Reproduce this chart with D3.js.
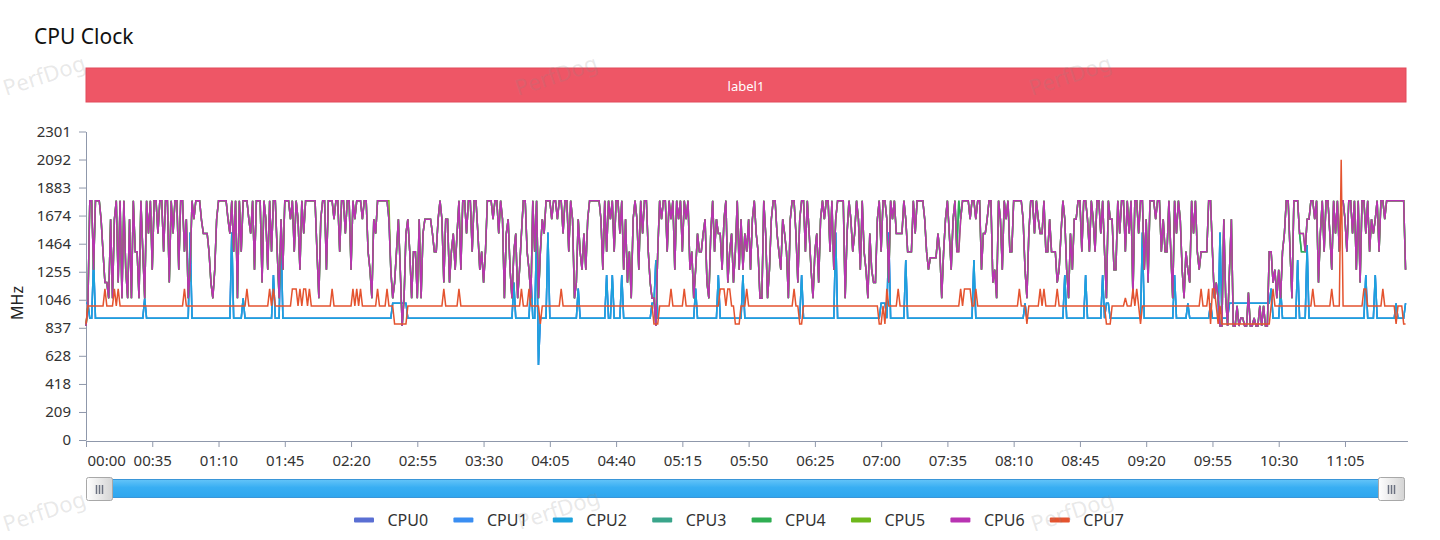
<!DOCTYPE html>
<html><head><meta charset="utf-8">
<script src="https://cdn.jsdelivr.net/npm/d3@7"></script>
<style>
html,body{margin:0;padding:0;background:#fff;}
svg{display:block;font-family:"Noto Sans","Open Sans",sans-serif;}
</style></head><body>
<svg id="chart" width="1440" height="540"></svg>
<script>
// ---------------- DATA ----------------
const chartTitle = "CPU Clock";
const bandLabel = "label1";
const yAxisTitle = "MHz";
const watermarkText = "PerfDog";
const seriesNames = ["CPU0","CPU1","CPU2","CPU3","CPU4","CPU5","CPU6","CPU7"];
const seriesColors = ["#5a6fd3","#3a8ef2","#1ca2dc","#3aa58b","#2fae52","#6eb81c","#b833b2","#e4532f"];
const yTickValues = [0,209,418,628,837,1046,1255,1464,1674,1883,2092,2301];
const xTickSeconds = [0,35,70,105,140,175,210,245,280,315,350,385,420,455,490,525,560,595,630,665];
const xTickLabels = ["00:00","00:35","01:10","01:45","02:20","02:55","03:30","04:05","04:40","05:15","05:50","06:25","07:00","07:35","08:10","08:45","09:20","09:55","10:30","11:05"];

// CPU0-CPU2 (little cluster), one value per second, MHz
const littleClk = [
1020,1020,908,908,1343,908,908,908,908,908,
908,908,908,908,908,908,908,908,908,908,
908,908,908,908,908,908,908,908,908,908,
908,1057,908,908,908,908,908,908,908,908,
908,908,908,908,908,908,908,908,908,908,
908,908,908,908,908,1548,908,908,908,908,
908,908,908,908,908,908,908,908,908,908,
908,908,908,908,908,908,908,1548,908,908,
908,908,908,1057,908,908,908,908,908,908,
908,908,908,908,908,908,908,908,908,1231,
908,908,908,1548,908,908,908,908,908,908,
908,908,908,908,908,908,908,908,908,908,
908,908,908,908,908,908,908,908,908,908,
908,908,908,908,908,908,908,908,908,908,
908,908,908,908,908,908,908,908,908,908,
908,908,908,908,908,908,908,908,908,908,
908,908,1020,1020,1020,1020,1020,1020,1020,1020,
908,908,908,908,908,908,908,908,908,908,
908,908,908,908,908,908,908,908,908,908,
908,908,908,908,908,908,908,908,908,908,
908,908,908,908,908,908,908,908,908,908,
908,908,908,908,908,908,908,908,908,908,
908,908,908,908,908,908,1174,908,908,908,
908,908,908,908,908,1231,908,908,1548,560,
908,908,908,908,1548,908,908,908,908,908,
908,908,908,908,908,908,908,908,908,908,
1130,908,908,908,908,908,908,908,908,908,
908,908,908,908,908,1231,908,908,1231,908,
908,908,908,1231,908,908,908,908,908,908,
908,908,908,908,908,908,908,908,908,1020,
1020,1343,908,908,908,908,908,908,908,908,
908,908,908,908,908,908,908,908,908,908,
908,908,1130,908,908,908,908,908,908,908,
908,908,908,908,1231,908,908,908,908,908,
908,908,908,908,908,908,908,1231,908,908,
908,908,908,908,908,908,908,908,908,908,
908,908,908,908,908,908,908,908,908,908,
908,908,908,908,908,908,908,908,1231,908,
908,908,908,908,908,908,908,908,908,908,
908,908,908,908,908,908,1548,908,908,908,
908,908,908,908,908,908,908,908,908,908,
908,908,908,908,908,908,908,908,908,908,
1020,1020,1020,908,1548,908,908,908,908,908,
908,908,908,1343,908,908,908,908,908,908,
908,908,908,908,908,908,908,908,908,908,
908,908,908,908,908,908,908,908,908,908,
908,908,908,908,908,908,908,908,908,1343,
908,908,908,908,908,908,908,908,908,908,
908,908,908,908,908,908,908,908,908,908,
908,908,908,908,908,908,1020,908,908,908,
908,908,908,908,908,908,908,908,908,908,
908,908,908,908,908,908,908,1231,908,908,
908,908,908,908,908,908,908,908,1231,908,
908,908,908,908,908,908,908,1231,908,1020,
1020,908,908,908,908,908,908,908,908,908,
908,908,908,908,908,908,908,908,1548,908,
908,908,908,908,908,908,908,908,908,908,
908,908,908,908,908,1231,908,908,908,908,
908,908,1020,908,908,908,908,908,908,908,
908,908,908,908,1020,908,908,908,908,1548,
908,908,908,908,1020,1020,1020,1020,1020,1020,
1020,1020,1020,1020,1020,1020,1020,1020,1020,1020,
1020,1020,1020,1020,1020,1020,1130,908,908,908,
908,1130,908,908,908,908,908,908,908,908,
1343,908,908,908,908,1455,908,908,908,908,
908,908,908,908,908,908,908,908,908,908,
908,908,908,908,908,908,908,908,908,908,
908,908,908,908,908,908,1231,908,908,908,
908,1231,908,908,908,908,908,908,908,908,
908,908,1020,908,908,908,908,1020
];

// CPU3-CPU6 (middle cluster), MHz
const midClk = [
850,1000,1785,1785,1270,1785,1785,1785,1640,1400,
1174,1174,1057,1647,1057,1647,1785,1174,1785,1057,
1785,1270,1057,1647,1057,1785,1405,1405,1057,1785,
1405,1057,1785,1540,1785,1270,1785,1785,1540,1785,
1785,1405,1785,1785,1174,1785,1540,1785,1785,1270,
1785,1785,1405,1647,1057,1270,1785,1647,1785,1785,
1785,1640,1540,1540,1540,1400,1174,1057,1270,1647,
1785,1785,1785,1785,1785,1647,1540,1785,1405,1785,
1057,1785,1405,1785,1785,1785,1647,1540,1785,1270,
1785,1785,1785,1174,1785,1647,1270,1785,1405,1785,
1785,1405,1057,1647,1270,1785,1785,1785,1647,1785,
1405,1785,1647,1270,1785,1540,1785,1785,1785,1785,
1785,1785,1405,1057,1647,1785,1785,1270,1785,1785,
1785,1647,1785,1785,1405,1785,1785,1540,1785,1785,
1270,1785,1647,1785,1785,1785,1647,1785,1785,1405,
1270,1057,1647,1540,1785,1785,1785,1785,1785,1785,
1647,1270,1057,1174,1405,1647,1270,850,1057,1540,
1647,1405,1057,1405,1405,1057,1647,1057,1540,1647,
1647,1647,1647,1540,1405,1405,1647,1785,1647,1174,
1647,1647,1174,1405,1540,1270,1540,1785,1270,1785,
1785,1540,1785,1785,1405,1785,1785,1540,1270,1405,
1174,1405,1785,1785,1785,1647,1785,1785,1540,1785,
1647,1057,1540,1647,1270,1057,1405,1540,1057,1270,
1540,1785,1785,1405,1270,1057,1785,1405,1785,1057,
1405,1647,1540,1785,1785,1785,1647,1785,1785,1647,
1785,1785,1540,1785,1785,1405,1785,1647,1057,1174,
1647,1405,1270,1540,1270,1647,1785,1785,1785,1785,
1785,1785,1647,1270,1785,1405,1785,1647,1785,1405,
1785,1785,1540,1785,1270,1647,1174,1405,1057,1647,
1785,1647,1270,1785,1540,1785,1785,1405,1174,1057,
1057,850,1405,1785,1647,1785,1785,1405,1785,1647,
1785,1270,1785,1647,1785,1405,1785,1647,1785,1270,
1405,1057,1270,1540,1405,1405,1540,1647,1174,1057,
1540,1785,1405,1647,1540,1540,1270,1647,1785,1174,
1405,1540,1174,1405,1785,1270,1647,1270,1540,1405,
1647,1270,1647,1785,1540,1405,1057,1057,1785,1540,
1057,1270,1647,1785,1785,1540,1405,1270,1647,1540,
1405,1057,1647,1785,1785,1540,1174,1647,1785,1785,
1405,1785,1540,1270,1057,1405,1540,1174,1647,1785,
1647,1785,1785,1405,1785,1270,1647,1785,1785,1785,
1785,1057,1540,1785,1647,1405,1540,1785,1647,1270,
1785,1405,1270,1057,1540,1270,1174,1174,1647,1785,
1405,1785,1785,1647,1174,1785,1647,1785,1540,1540,
1540,1540,1785,1647,1405,1405,1405,1785,1540,1785,
1785,1785,1785,1647,1405,1270,1360,1360,1360,1360,
1540,1405,1057,1405,1647,1785,1540,1270,1647,1785,
1405,1405,1647,1785,1785,1785,1785,1647,1785,1785,
1647,1785,1785,1270,1540,1540,1647,1785,1785,1174,
1270,1057,1785,1647,1270,1785,1647,1785,1405,1405,
1785,1785,1785,1785,1785,1647,1270,1057,1540,1785,
1785,1540,1785,1647,1540,1540,1785,1405,1405,1647,
1405,1405,1405,1174,1270,1540,1785,1647,1270,1057,
1540,1270,1647,1647,1785,1785,1405,1785,1785,1647,
1405,1785,1647,1405,1785,1785,1540,1785,1405,1057,
1785,1647,1647,1270,1270,1785,1540,1785,1785,1405,
1785,1540,1785,1057,1785,1785,1540,1785,1785,1270,
1647,1174,1785,1785,1785,1647,1785,1785,1405,1647,
1405,1405,1785,1405,1057,1785,1540,1785,1647,1270,
1057,1405,1270,1174,1785,1540,1785,1405,1270,1405,
1405,1405,1405,1785,1785,1405,1057,1174,1057,850,
850,1647,1057,850,1270,1647,850,850,1000,850,
910,910,850,850,1100,850,850,910,850,850,
1000,850,1000,850,850,1405,1405,1174,1270,1057,
1270,1057,1405,1540,1785,1785,1405,1057,1785,1785,
1785,1540,1540,1540,1405,1647,1647,1785,1785,1647,
1785,1174,1540,1785,1405,1785,1785,1540,1270,1785,
1540,1785,1405,1785,1785,1647,1405,1785,1785,1540,
1785,1270,1785,1174,1785,1785,1540,1785,1405,1647,
1540,1647,1785,1405,1785,1785,1647,1785,1785,1785,
1785,1785,1785,1785,1785,1785,1785,1270
];

// CPU7 (prime core), MHz
const primeClk = [
866,1000,1000,1000,1000,1000,1000,1000,1000,1000,
1127,1000,1000,1000,1000,1127,1000,1127,1000,1000,
1000,1000,1000,1000,1000,1000,1000,1000,1000,1000,
1000,1000,1000,1000,1000,1000,1000,1000,1000,1000,
1000,1000,1000,1000,1000,1000,1000,1000,1000,1000,
1000,1000,1127,1000,1000,1000,1000,1000,1000,1000,
1000,1000,1000,1000,1000,1000,1000,1000,1000,1000,
1000,1000,1000,1000,1000,1000,1000,1000,1000,1000,
1000,1000,1000,1000,1000,1127,1000,1000,1000,1000,
1000,1000,1000,1000,1000,1000,1000,1127,1000,1127,
1000,1000,1000,1000,1000,1000,1000,1000,1000,1127,
1127,1127,1000,1127,1000,1127,1127,1000,1127,1000,
1000,1000,1000,1000,1000,1000,1000,1000,1000,1000,
1127,1000,1000,1000,1000,1000,1000,1000,1000,1000,
1000,1127,1000,1127,1000,1127,1000,1000,1000,1000,
1000,1000,1000,1000,1127,1000,1000,1000,1000,1127,
1000,1000,1000,866,866,866,866,866,866,866,
1000,1000,1000,1000,1000,1000,1000,1000,1000,1000,
1000,1000,1000,1000,1000,1000,1000,1000,1000,1127,
1000,1000,1000,1000,1000,1000,1000,1127,1000,1000,
1000,1000,1000,1000,1000,1000,1000,1000,1000,1000,
1000,1000,1000,1000,1000,1000,1000,1000,1000,1000,
1000,1000,1000,1000,1000,1000,1000,1000,1000,1000,
1127,1000,1000,1000,1127,1000,1000,1000,1000,1000,
866,1000,1000,1000,1000,1000,1000,1000,1000,1000,
1000,1127,1000,1000,1000,1000,1000,1000,1000,1000,
1000,1000,1000,1000,1000,1000,1000,1000,1000,1000,
1000,1000,1000,1000,1000,1000,1000,1000,1000,1000,
1000,1000,1000,1000,1000,1000,1000,1000,1000,1000,
1000,1000,1000,1000,1000,1000,1000,1000,1000,1000,
866,866,866,1000,1000,1000,1000,1000,1000,1127,
1000,1000,1000,1000,1000,1000,1127,1000,1000,1000,
1000,1000,1000,1000,1000,1000,1000,1000,1000,1000,
1000,1000,1000,1000,1000,1127,1127,1127,1000,1127,
1127,1000,1000,866,866,866,1000,1000,1000,1127,
1000,1000,1000,1000,1000,1000,1000,1000,1000,1000,
1000,1000,1000,1000,1000,1000,1000,1000,1000,1000,
1000,1000,1000,1000,1127,1000,1000,866,866,1000,
1000,1000,1000,1000,1000,1000,1000,1000,1000,1000,
1000,1000,1000,1000,1000,1000,1000,1000,1000,1000,
1000,1000,1000,1000,1000,1000,1000,1000,1000,1000,
1000,1000,1000,1000,1000,1000,1000,1000,1000,866,
866,1000,866,1127,1000,1000,1000,1000,1000,1127,
1000,1000,1000,1000,1000,1000,1000,1000,1000,1000,
1000,1000,1000,1000,1000,1000,1000,1000,1000,1000,
1000,1000,1000,1000,1000,1000,1000,1000,1000,1000,
1000,1000,1127,1000,1127,1127,1127,1127,1000,1000,
1127,1000,1000,1000,1000,1000,1000,1000,1000,1000,
1000,1000,1000,1000,1000,1000,1000,1000,1000,1000,
1000,1000,1000,1127,1000,1000,1000,866,1000,1000,
1000,1000,1000,1000,1127,1000,1127,1000,1000,1000,
1000,1000,1000,1127,1000,1000,1000,1000,1000,1000,
1000,1000,1000,1000,1000,1000,1000,1000,1000,1000,
1000,1000,1000,1000,1000,1000,1000,1000,1000,866,
866,866,1000,1000,1000,1000,1000,1000,1000,1060,
1000,1000,1000,1127,1000,1127,1000,866,1000,1000,
1000,1000,1000,1000,1000,1000,1000,1000,1000,1000,
1000,1000,1000,1000,1000,1000,1000,1000,1000,1000,
1000,1000,1000,1000,1000,1000,1000,1000,1000,1127,
1000,1000,1000,1127,866,1127,1127,1000,866,1000,
866,866,866,866,866,866,866,866,866,866,
866,866,866,866,866,866,866,866,866,866,
866,866,866,866,866,866,1000,1127,1000,1000,
1000,1000,1000,1000,1000,1000,1000,1000,1000,1000,
1000,1000,1000,1000,1000,1000,1000,1000,1127,1000,
1000,1000,1000,1000,1000,1000,1000,1000,1127,1000,
1000,1000,1000,2090,1000,1000,1000,1000,1000,1000,
1000,1000,1000,1000,1000,1127,1127,1000,1000,1000,
1000,1000,1000,1000,1000,1127,1000,1000,1000,1000,
1000,1000,866,1000,1000,1000,866,866
];

// points where CPU3/CPU4 and CPU5 differ from the rest of the middle cluster: [second, MHz]
const cpu34Diff = [[461,1785],[642,1405],[643,1405]];
const cpu5Diff = [[160,1785]];

// ---------------- CHART ----------------
const N = midClk.length;
if (littleClk.length !== N || primeClk.length !== N) {
  throw new Error("length mismatch " + littleClk.length + " " + N + " " + primeClk.length);
}
function withDiff(base, diff) {
  const m = new Map(diff);
  return base.map((v, i) => m.has(i) ? m.get(i) : v);
}
const seriesValues = [
  littleClk, littleClk, littleClk,
  withDiff(midClk, cpu34Diff), withDiff(midClk, cpu34Diff), withDiff(midClk, cpu5Diff), midClk,
  primeClk
];

const svg = d3.select("#chart");
const defs = svg.append("defs");

// title
svg.append("text").attr("x", 34).attr("y", 44).attr("font-size", 21).attr("fill", "#111").text(chartTitle);

// label band
svg.append("rect").attr("x", 86).attr("y", 68).attr("width", 1320).attr("height", 34)
  .attr("fill", "#ee5666").attr("stroke", "#e24a5a").attr("stroke-width", 1);
svg.append("text").attr("x", 746).attr("y", 90.5).attr("text-anchor", "middle")
  .attr("font-size", 13).attr("fill", "#fff").text(bandLabel);

const x = d3.scaleLinear().domain([0, N]).range([86, 86 + N * 1.8932]);
const y = d3.scaleLinear().domain([0, 2301]).range([440, 131.5]);

const axisColor = "#8f98ab";
const gx = svg.append("g").attr("transform", "translate(0,441)")
  .call(d3.axisBottom(x).tickValues(xTickSeconds).tickFormat((d, i) => xTickLabels[i]).tickSize(6).tickSizeOuter(0).tickPadding(8));
gx.selectAll("text").attr("font-size", 15).attr("fill", "#333").attr("font-family", "Noto Sans");
gx.select("text").attr("text-anchor", "start").attr("dx", 1);
gx.selectAll("line,path").attr("stroke", axisColor);

const gy = svg.append("g").attr("transform", "translate(86,0)")
  .call(d3.axisLeft(y).tickValues(yTickValues).tickFormat(d3.format("d")).tickSize(7).tickSizeOuter(0).tickPadding(8));
gy.selectAll("text").attr("font-size", 15).attr("fill", "#333").attr("font-family", "Noto Sans");
gy.selectAll("line,path").attr("stroke", axisColor);

svg.append("text").attr("transform", "translate(23,303) rotate(-90)").attr("text-anchor", "middle")
  .attr("font-size", 16).attr("fill", "#222").text(yAxisTitle);

// lines
const line = d3.line().x((d, i) => x(i)).y(d => y(d));
const gl = svg.append("g");
seriesValues.forEach((vals, k) => {
  gl.append("path").attr("d", line(vals)).attr("fill", "none")
    .attr("stroke", seriesColors[k]).attr("stroke-width", 1.5);
});

// slider
const gBar = defs.append("linearGradient").attr("id", "barG").attr("x1", 0).attr("y1", 0).attr("x2", 0).attr("y2", 1);
gBar.append("stop").attr("offset", "0%").attr("stop-color", "#64c4f8");
gBar.append("stop").attr("offset", "45%").attr("stop-color", "#38aef3");
gBar.append("stop").attr("offset", "100%").attr("stop-color", "#2ea6ee");
const gH = defs.append("linearGradient").attr("id", "hG").attr("x1", 0).attr("y1", 0).attr("x2", 1).attr("y2", 0);
gH.append("stop").attr("offset", "0%").attr("stop-color", "#ffffff");
gH.append("stop").attr("offset", "100%").attr("stop-color", "#d4d4d4");
svg.append("rect").attr("x", 100).attr("y", 479.5).attr("width", 1292).attr("height", 18)
  .attr("fill", "url(#barG)").attr("stroke", "#3a96d8").attr("stroke-width", 1);
[86.5, 1378.5].forEach(hx => {
  svg.append("rect").attr("x", hx).attr("y", 477.5).attr("width", 26).attr("height", 23).attr("rx", 2)
    .attr("fill", "url(#hG)").attr("stroke", "#a8a8a8");
  [-3, 0, 3].forEach(dx => {
    svg.append("line").attr("x1", hx + 13 + dx).attr("x2", hx + 13 + dx).attr("y1", 485).attr("y2", 494)
      .attr("stroke", "#6b7180").attr("stroke-width", 1.5);
  });
});

// legend
const lg = svg.append("g");
seriesNames.forEach((name, k) => {
  const lx = 354 + k * 99.4;
  lg.append("rect").attr("x", lx).attr("y", 517.5).attr("width", 20).attr("height", 5).attr("rx", 1)
    .attr("fill", seriesColors[k]);
  lg.append("text").attr("x", lx + 33.5).attr("y", 525.5).attr("font-size", 16).attr("fill", "#333").text(name);
});

// watermarks (drawn on top, translucent)
const wm = svg.append("g").attr("fill", "#8a8a8a").attr("fill-opacity", 0.2).attr("font-size", 22);
[[6,96],[518,96],[1032,96],[6,532],[520,530],[1034,532]].forEach(p => {
  wm.append("text").attr("transform", `translate(${p[0]},${p[1]}) rotate(-18)`).text(watermarkText);
});
</script>
</body></html>
